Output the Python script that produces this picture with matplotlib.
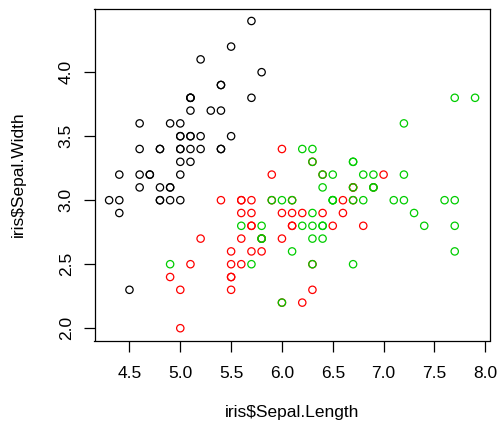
import matplotlib
matplotlib.use("Agg")
import matplotlib.pyplot as plt
import numpy as np

plt.rcParams['font.family'] = ['Liberation Sans', 'DejaVu Sans']

setosa_len = [5.1,4.9,4.7,4.6,5.0,5.4,4.6,5.0,4.4,4.9,5.4,4.8,4.8,4.3,5.8,5.7,5.4,5.1,5.7,5.1,
              5.4,5.1,4.6,5.1,4.8,5.0,5.0,5.2,5.2,4.7,4.8,5.4,5.2,5.5,4.9,5.0,5.5,4.9,4.4,5.1,
              5.0,4.5,4.4,5.0,5.1,4.8,5.1,4.6,5.3,5.0]
setosa_wid = [3.5,3.0,3.2,3.1,3.6,3.9,3.4,3.4,2.9,3.1,3.7,3.4,3.0,3.0,4.0,4.4,3.9,3.5,3.8,3.8,
              3.4,3.7,3.6,3.3,3.4,3.0,3.4,3.5,3.4,3.2,3.1,3.4,4.1,4.2,3.1,3.2,3.5,3.6,3.0,3.4,
              3.5,2.3,3.2,3.5,3.8,3.0,3.8,3.2,3.7,3.3]
versicolor_len = [7.0,6.4,6.9,5.5,6.5,5.7,6.3,4.9,6.6,5.2,5.0,5.9,6.0,6.1,5.6,6.7,5.6,5.8,6.2,5.6,
                  5.9,6.1,6.3,6.1,6.4,6.6,6.8,6.7,6.0,5.7,5.5,5.5,5.8,6.0,5.4,6.0,6.7,6.3,5.6,5.5,
                  5.5,6.1,5.8,5.0,5.6,5.7,5.7,6.2,5.1,5.7]
versicolor_wid = [3.2,3.2,3.1,2.3,2.8,2.8,3.3,2.4,2.9,2.7,2.0,3.0,2.2,2.9,2.9,3.1,3.0,2.7,2.2,2.5,
                  3.2,2.8,2.5,2.8,2.9,3.0,2.8,3.0,2.9,2.6,2.4,2.4,2.7,2.7,3.0,3.4,3.1,2.3,3.0,2.5,
                  2.6,3.0,2.6,2.3,2.7,3.0,2.9,2.9,2.5,2.8]
virginica_len = [6.3,5.8,7.1,6.3,6.5,7.6,4.9,7.3,6.7,7.2,6.5,6.4,6.8,5.7,5.8,6.4,6.5,7.7,7.7,6.0,
                 6.9,5.6,7.7,6.3,6.7,7.2,6.2,6.1,6.4,7.2,7.4,7.9,6.4,6.3,6.1,7.7,6.3,6.4,6.0,6.9,
                 6.7,6.9,5.8,6.8,6.7,6.7,6.3,6.5,6.2,5.9]
virginica_wid = [3.3,2.7,3.0,2.9,3.0,3.0,2.5,2.9,2.5,3.6,3.2,2.7,3.0,2.5,2.8,3.2,3.0,3.8,2.6,2.2,
                 3.2,2.8,2.8,2.7,3.3,3.2,2.8,3.0,2.8,3.0,2.8,3.8,2.8,2.8,2.6,3.0,3.4,3.1,3.0,3.1,
                 3.1,3.1,2.7,3.2,3.3,3.0,2.5,3.0,3.4,3.0]

species_colors = ['black', '#FF0000', '#00CD00']
x_ticks = [4.5, 5.0, 5.5, 6.0, 6.5, 7.0, 7.5, 8.0]
y_ticks = [2.0, 2.5, 3.0, 3.5, 4.0]

fig = plt.figure(figsize=(4.98, 4.25), dpi=100)
ax = fig.add_axes([94.5/498, 1 - 340.5/425, (489.7-94.5)/498, (340.5-8.7)/425])

for xs, ys, c in zip([setosa_len, versicolor_len, virginica_len],
                     [setosa_wid, versicolor_wid, virginica_wid], species_colors):
    ax.scatter(xs, ys, s=28, facecolors='none', edgecolors=c, linewidths=0.9)

allx = setosa_len + versicolor_len + virginica_len
ally = setosa_wid + versicolor_wid + virginica_wid
xr = max(allx) - min(allx)
yr = max(ally) - min(ally)
ax.set_xlim(min(allx) - 0.04*xr, max(allx) + 0.04*xr)
ax.set_ylim(min(ally) - 0.04*yr, max(ally) + 0.04*yr)

ax.set_xticks(x_ticks)
ax.set_xticklabels([f"{t:.1f}" for t in x_ticks])
ax.set_yticks(y_ticks)
ax.set_yticklabels([f"{t:.1f}" for t in y_ticks], rotation=90, va='center')
ax.tick_params(direction='out', length=8, width=0.9, labelsize=12.5)
ax.tick_params(axis='x', pad=10)
ax.tick_params(axis='y', pad=7)
for s in ax.spines.values():
    s.set_linewidth(0.9)

fig.text(0.5*(94.5+489.7)/498, 1 - 413/425, 'iris$Sepal.Length', ha='center', va='center', fontsize=12.5)
fig.text(18/498, 1 - 0.5*(340.5+8.7)/425, 'iris$Sepal.Width', ha='center', va='center', rotation=90, fontsize=12.5)

fig.savefig('out.png', dpi=100)
